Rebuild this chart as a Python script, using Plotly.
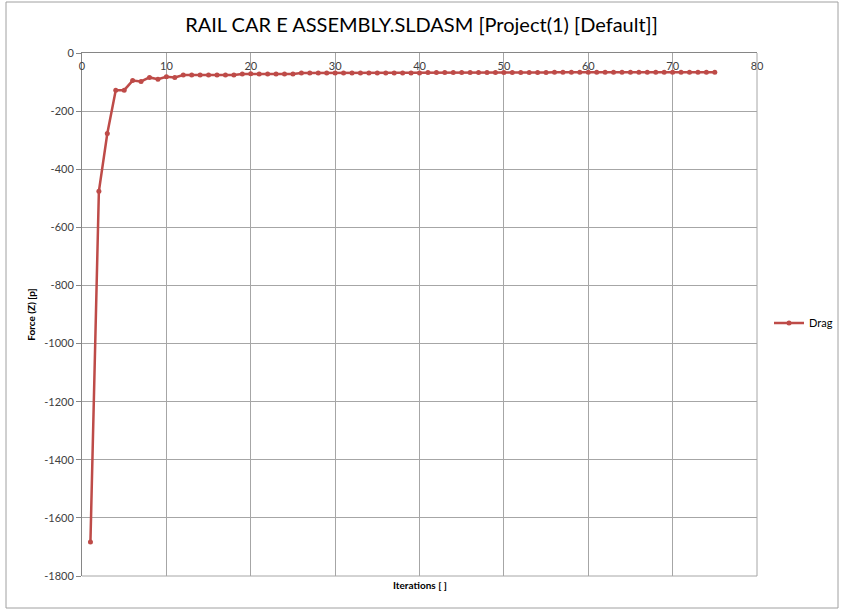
import plotly.graph_objects as go

# Drag force history over solver iterations
iterations = list(range(1, 76))
drag = [
    -1683, -476, -277, -128, -128, -95, -98, -84, -90, -82,
    -84, -76, -76, -76, -76, -76, -76, -76, -72, -71,
    -72, -72, -72, -72, -72, -69, -69, -69, -69, -69,
    -69, -69, -69, -69, -69, -69, -69, -69, -69, -69,
    -67, -67, -67, -67, -67, -67, -67, -67, -67, -67,
    -67, -67, -67, -67, -67, -66, -66, -66, -66, -66,
    -66, -66, -66, -66, -66, -66, -66, -66, -66, -66,
    -66, -66, -66, -66, -66,
]
x_ticks = [0, 10, 20, 30, 40, 50, 60, 70, 80]
y_ticks = list(range(-1800, 1, 200))

title_text = "RAIL CAR E ASSEMBLY.SLDASM [Project(1) [Default]]"
x_title = "Iterations [ ]"
y_title = "Force (Z) [p]"

line_color = "#BE4B48"
grid_color = "#A6A6A6"
axis_color = "#868686"
font_family = "Lato, 'Open Sans', sans-serif"

W, H = 843, 614
L, R, T, B = 82, 86, 53, 38
pw, ph = W - L - R, H - T - B


def px_x(p):
    return (p - L) / pw


def px_y(p):
    return (H - B - p) / ph


fig = go.Figure()
fig.add_trace(go.Scatter(
    x=iterations, y=drag, mode="lines+markers", name="Drag",
    line=dict(color=line_color, width=2.5),
    marker=dict(color=line_color, size=5),
))

fig.update_layout(
    width=W, height=H,
    margin=dict(l=L, r=R, t=T, b=B, autoexpand=False),
    paper_bgcolor="white", plot_bgcolor="white",
    font=dict(family=font_family, size=11, color="#404040"),
    title=dict(text=title_text, x=0.5, xref="container", xanchor="center",
               y=1 - 25 / H, yref="container", yanchor="middle",
               font=dict(size=20, color="#000000", family=font_family)),
    showlegend=True,
    legend=dict(x=769 / W, y=1 - 323 / H, xref="container", yref="container",
                xanchor="left", yanchor="middle",
                bgcolor="rgba(0,0,0,0)", font=dict(size=11, color="#000000"),
                itemwidth=30),
    xaxis=dict(
        range=[0, 80], tickvals=x_ticks, ticktext=[str(v) for v in x_ticks],
        side="top", ticklabelposition="inside", ticklabeloverflow="allow",
        ticks="inside", ticklen=9, tickcolor="rgba(0,0,0,0)",
        showgrid=True, gridcolor=grid_color, gridwidth=1,
        showline=True, linecolor=axis_color, linewidth=1,
        zeroline=False, tickfont=dict(size=11, color="#404040"),
    ),
    yaxis=dict(
        range=[-1800, 0], tickvals=y_ticks, ticktext=[str(v) for v in y_ticks],
        ticklabeloverflow="allow",
        ticks="outside", ticklen=5, tickcolor=axis_color,
        showgrid=True, gridcolor=grid_color, gridwidth=1,
        showline=True, linecolor=axis_color, linewidth=1,
        zeroline=False, tickfont=dict(size=11, color="#404040"),
        title=dict(text=f"<b>{y_title}</b>", standoff=6,
                   font=dict(size=10, color="#000000")),
    ),
)

# bottom and right frame of the plot area
fig.add_shape(type="line", xref="paper", yref="paper", x0=0, x1=1, y0=0, y1=0,
              line=dict(color=grid_color, width=1))
fig.add_shape(type="line", xref="paper", yref="paper", x0=1, x1=1, y0=0, y1=1,
              line=dict(color=grid_color, width=1))

# chart border
fig.add_shape(type="rect", xref="paper", yref="paper",
              x0=px_x(6), x1=px_x(838), y0=px_y(608), y1=px_y(2),
              line=dict(color="#A0A0A0", width=1), layer="below")

fig.add_annotation(text=f"<b>{x_title}</b>", xref="paper", yref="paper",
                   x=0.5, y=px_y(585), xanchor="center", yanchor="middle",
                   showarrow=False, font=dict(size=10, color="#000000"))

fig.write_html("out.html")
